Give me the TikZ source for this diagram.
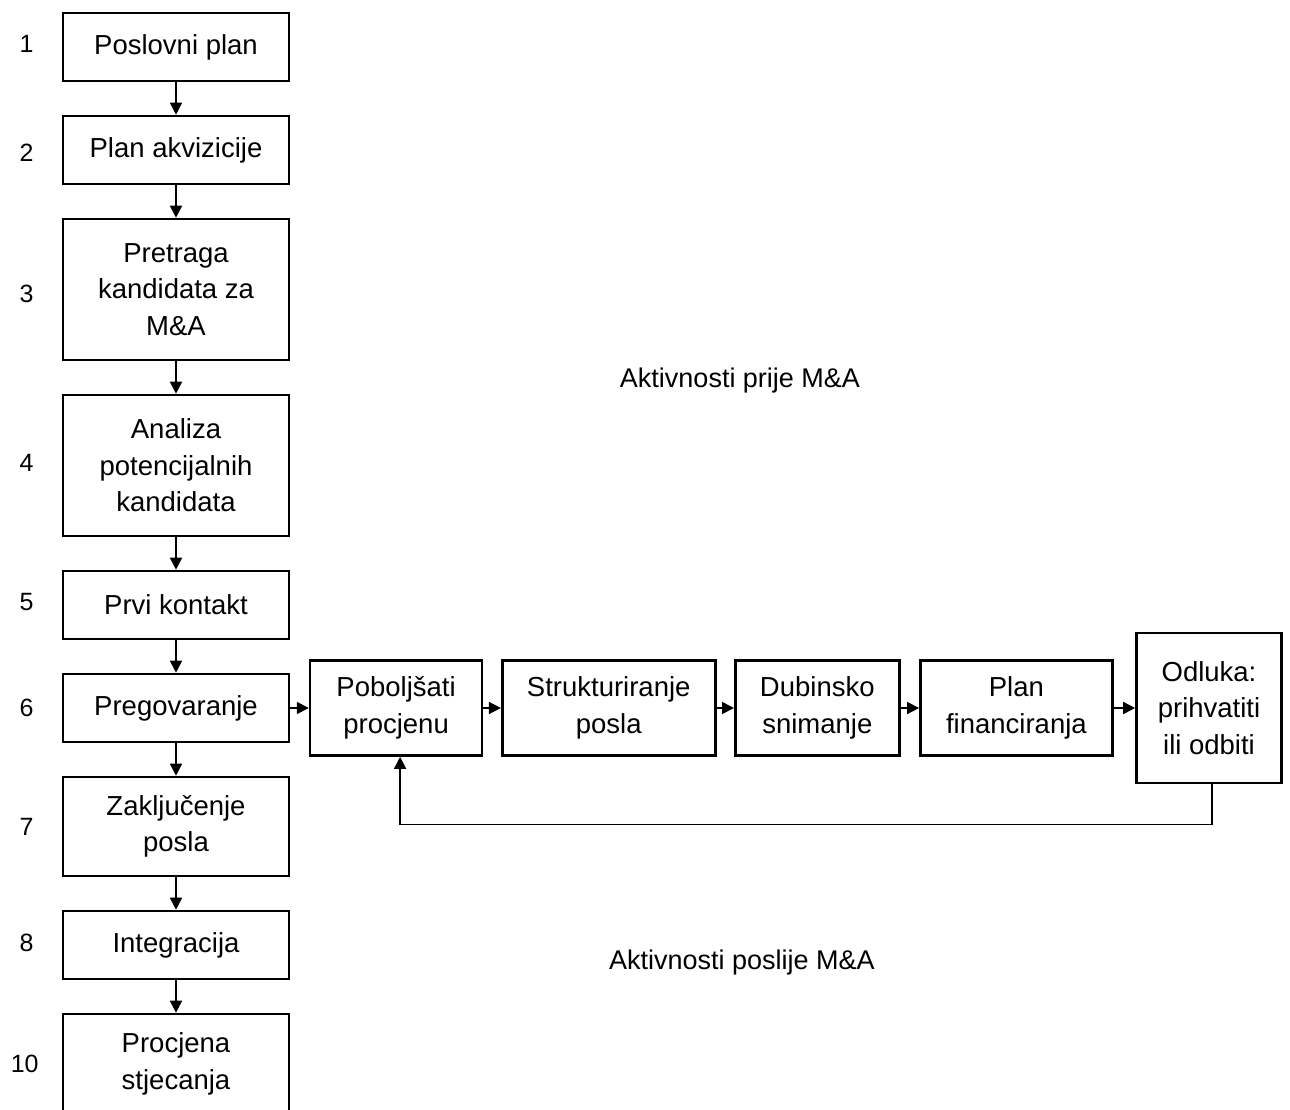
\documentclass[tikz,border=0pt]{standalone}
\usepackage{fontspec}
\setmainfont{Liberation Sans}
\usepackage{tikz}
\usetikzlibrary{positioning, arrows.meta}
\tikzstyle{stepbox} = [draw=black, line width=2.6pt, rectangle, minimum width=226pt, minimum height=68pt, align=center, inner sep=2pt, font=\fontsize{27.5}{36.5}\selectfont]
\tikzstyle{dealbox} = [stepbox, minimum width=0pt, minimum height=95pt]
\tikzstyle{num} = [font=\fontsize{25}{30}\selectfont, inner sep=0pt]
\tikzstyle{phase} = [font=\fontsize{27}{32}\selectfont, inner sep=0pt]
\tikzstyle{flow} = [line width=1.6pt, -{Triangle[length=12pt,width=12pt]}]

\begin{document}
\begin{tikzpicture}[node distance=32.4pt]

        \useasboundingbox (0,0) rectangle (1290pt,-1109pt);

        % Steps
        \node (plan) [stepbox] at (176pt,-47pt) {Poslovni plan};
        \node (akv) [stepbox, below=of plan] {Plan akvizicije};
        \node (pretraga) [stepbox, below=of akv, minimum height=141pt] {Pretraga\\kandidata za\\M\&A};
        \node (analiza) [stepbox, below=of pretraga, minimum height=141pt] {Analiza\\potencijalnih\\kandidata};
        \node (kontakt) [stepbox, below=of analiza] {Prvi kontakt};
        \node (preg) [stepbox, below=of kontakt] {Pregovaranje};
        \node (zaklj) [stepbox, below=of preg, minimum height=99pt] {Zaklju\v{c}enje\\posla};
        \node (integ) [stepbox, below=of zaklj] {Integracija};
        \node (procj) [stepbox, below=of integ, minimum height=100pt] {Procjena\\stjecanja};

        % Step numbers
        \node (n1) [num] at ([xshift=-35pt,yshift=3pt]plan.west) {1};
        \node (n2) [num] at ([xshift=-35pt,yshift=-3pt]akv.west) {2};
        \node (n3) [num] at ([xshift=-35pt,yshift=-4pt]pretraga.west) {3};
        \node (n4) [num] at ([xshift=-35pt,yshift=3pt]analiza.west) {4};
        \node (n5) [num] at ([xshift=-35pt,yshift=3pt]kontakt.west) {5};
        \node (n6) [num] at ([xshift=-35pt]preg.west) {6};
        \node (n7) [num] at ([xshift=-35pt]zaklj.west) {7};
        \node (n8) [num] at ([xshift=-35pt,yshift=2pt]integ.west) {8};
        \node (n10) [num] at ([xshift=-37pt]procj.west) {10};

        % Deal steps
        \node (pobolj) [dealbox, right=18.5pt of preg, minimum width=172pt] {Pobolj\v{s}ati\\procjenu};
        \node (strukt) [dealbox, right=17.5pt of pobolj, minimum width=213pt] {Strukturiranje\\posla};
        \node (dubin) [dealbox, right=17.5pt of strukt, minimum width=164pt] {Dubinsko\\snimanje};
        \node (financ) [dealbox, right=18.5pt of dubin, minimum width=192pt] {Plan\\financiranja};
        \node (odluka) [dealbox, right=21.5pt of financ, minimum width=145pt, minimum height=150pt] {Odluka:\\prihvatiti\\ili odbiti};

        % Phases
        \node (prije) [phase] at (740pt,-381pt) {Aktivnosti prije M\&A};
        \node (poslije) [phase] at (742pt,-963pt) {Aktivnosti poslije M\&A};

        % Connections between steps
        \draw [flow] (plan) -- (akv);
        \draw [flow] (akv) -- (pretraga);
        \draw [flow] (pretraga) -- (analiza);
        \draw [flow] (analiza) -- (kontakt);
        \draw [flow] (kontakt) -- (preg);
        \draw [flow] (preg) -- (zaklj);
        \draw [flow] (zaklj) -- (integ);
        \draw [flow] (integ) -- (procj);

        % Deal loop
        \draw [flow] (preg) -- (pobolj);
        \draw [flow] (pobolj) -- (strukt);
        \draw [flow] (strukt) -- (dubin);
        \draw [flow] (dubin) -- (financ);
        \draw [flow] (financ) -- (odluka);
        \draw [flow, line width=1.3pt] ([xshift=3pt]odluka.south) -- ++(0,-40pt) -| ([xshift=4pt]pobolj.south);

\end{tikzpicture}
\end{document}
